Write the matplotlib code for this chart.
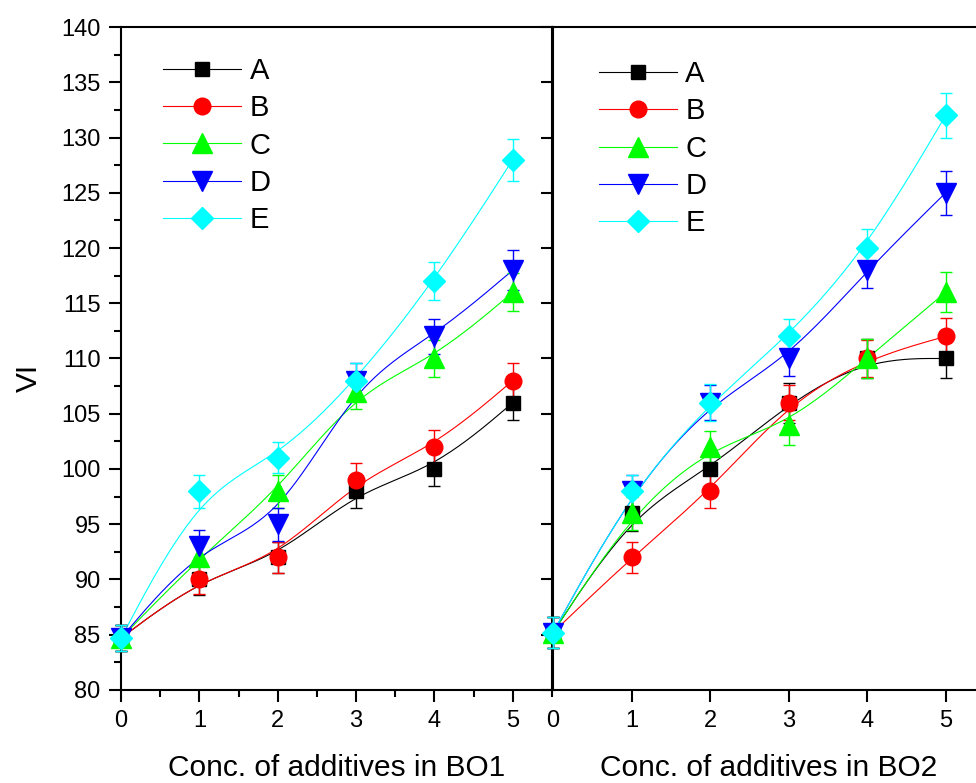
import numpy as np
import matplotlib
matplotlib.use('Agg')
import matplotlib.pyplot as plt
from matplotlib.lines import Line2D
from matplotlib.ticker import MultipleLocator

plt.rcParams['font.family'] = ['Liberation Sans', 'DejaVu Sans']

# additive concentration (same for both base oils)
conc = [0, 1, 2, 3, 4, 5]
labels = ['A', 'B', 'C', 'D', 'E']

# viscosity index, base oil BO1
vi_bo1_a = [84.7, 90, 92, 98, 100, 106]
vi_bo1_b = [84.7, 90, 92, 99, 102, 108]
vi_bo1_c = [84.7, 92, 98, 107, 110, 116]
vi_bo1_d = [84.7, 93, 95, 108, 112, 118]
vi_bo1_e = [84.7, 98, 101, 108, 117, 128]
err_bo1_a = [1.2, 1.4, 1.4, 1.5, 1.5, 1.6]
err_bo1_b = [1.2, 1.3, 1.4, 1.5, 1.5, 1.6]
err_bo1_c = [1.2, 1.4, 1.5, 1.6, 1.7, 1.7]
err_bo1_d = [1.2, 1.5, 1.5, 1.6, 1.6, 1.8]
err_bo1_e = [1.2, 1.5, 1.4, 1.6, 1.7, 1.9]

# viscosity index, base oil BO2
vi_bo2_a = [85.2, 96, 100, 106, 110, 110]
vi_bo2_b = [85.2, 92, 98, 106, 110, 112]
vi_bo2_c = [85.2, 96, 102, 104, 110, 116]
vi_bo2_d = [85.2, 98, 106, 110, 118, 125]
vi_bo2_e = [85.2, 98, 106, 112, 120, 132]
err_bo2_a = [1.4, 1.6, 1.6, 1.8, 1.8, 1.8]
err_bo2_b = [1.4, 1.4, 1.5, 1.6, 1.7, 1.65]
err_bo2_c = [1.4, 1.5, 1.4, 1.8, 1.8, 1.8]
err_bo2_d = [1.4, 1.5, 1.6, 1.6, 1.6, 2.0]
err_bo2_e = [1.4, 1.45, 1.65, 1.6, 1.7, 2.0]

colors = ['#000000', '#ff0000', '#00ff00', '#0000ff', '#00ffff']
markers = ['s', 'o', '^', 'v', 'D']
msizes = [10.5, 12, 14, 14, 11.5]


def bspline(xs, ys, n=30):
    """Uniform cubic B-spline through the end points, data used as control points."""
    px = np.r_[xs[0], xs[0], xs, xs[-1], xs[-1]].astype(float)
    py = np.r_[ys[0], ys[0], ys, ys[-1], ys[-1]].astype(float)
    t = np.linspace(0, 1, n)
    b0 = (1 - t) ** 3 / 6
    b1 = (3 * t ** 3 - 6 * t ** 2 + 4) / 6
    b2 = (-3 * t ** 3 + 3 * t ** 2 + 3 * t + 1) / 6
    b3 = t ** 3 / 6
    cx, cy = [], []
    for k in range(len(px) - 3):
        cx.append(b0 * px[k] + b1 * px[k + 1] + b2 * px[k + 2] + b3 * px[k + 3])
        cy.append(b0 * py[k] + b1 * py[k + 1] + b2 * py[k + 2] + b3 * py[k + 3])
    return np.concatenate(cx), np.concatenate(cy)


def draw_panel(ax, series, errors):
    for ys, es, c, m, ms in zip(series, errors, colors, markers, msizes):
        sx, sy = bspline(conc, ys)
        ax.plot(sx, sy, color=c, lw=0.8, zorder=2)
        ax.errorbar(conc, ys, yerr=es, fmt=m, color=c, ms=ms, mec=c,
                    ecolor=c, elinewidth=1.0, capsize=4, capthick=1.0,
                    zorder=3, clip_on=False)


fig = plt.figure(figsize=(9.76, 7.83), dpi=100)
ax1 = fig.add_axes([0.124, 0.1188, 0.4416, 0.8467])
ax2 = fig.add_axes([0.5666, 0.1188, 0.4426, 0.8467])

draw_panel(ax1, [vi_bo1_a, vi_bo1_b, vi_bo1_c, vi_bo1_d, vi_bo1_e],
           [err_bo1_a, err_bo1_b, err_bo1_c, err_bo1_d, err_bo1_e])
draw_panel(ax2, [vi_bo2_a, vi_bo2_b, vi_bo2_c, vi_bo2_d, vi_bo2_e],
           [err_bo2_a, err_bo2_b, err_bo2_c, err_bo2_d, err_bo2_e])

for ax in (ax1, ax2):
    ax.set_xlim(0, 5.5)
    ax.set_ylim(80, 140)
    ax.set_xticks(conc)
    for sp in ax.spines.values():
        sp.set_linewidth(1.5)
    ax.tick_params(which='major', direction='out', length=8.6, width=1.5,
                   labelsize=17, pad=6)

# left panel: minor ticks on both axes, labels on y
ax1.xaxis.set_minor_locator(MultipleLocator(0.5))
ax1.yaxis.set_minor_locator(MultipleLocator(2.5))
ax1.set_yticks(np.arange(80, 141, 5))
ax1.tick_params(which='minor', direction='out', length=5, width=1.5)
ax1.tick_params(axis='y', right=False, which='both')
ax1.tick_params(axis='x', top=False, which='both')
ax1.set_ylabel('VI', fontsize=21.5)
ax1.yaxis.set_label_coords(-0.181, 0.471)
ax1.set_xlabel('Conc. of additives in BO1', fontsize=21.5, labelpad=16)

# right panel: major ticks only, no y labels
ax2.set_yticks(np.arange(80, 141, 5))
ax2.tick_params(axis='y', labelleft=False)
ax2.xaxis.get_major_ticks()[0].tick1line.set_visible(False)
ax2.set_xlabel('Conc. of additives in BO2', fontsize=21.5, labelpad=16)

handles = [Line2D([], [], color=c, lw=0.8, marker=m, ms=ms, mec=c)
           for c, m, ms in zip(colors, markers, msizes)]
for ax, anchor in ((ax1, (0.097, 0.955)), (ax2, (0.106, 0.95))):
    ax.legend(handles, labels, loc='upper left', bbox_to_anchor=anchor,
              frameon=False, fontsize=21, handlelength=2.67,
              handletextpad=0.3, labelspacing=0.32, borderpad=0,
              borderaxespad=0)

fig.savefig('out.png', dpi=100)
